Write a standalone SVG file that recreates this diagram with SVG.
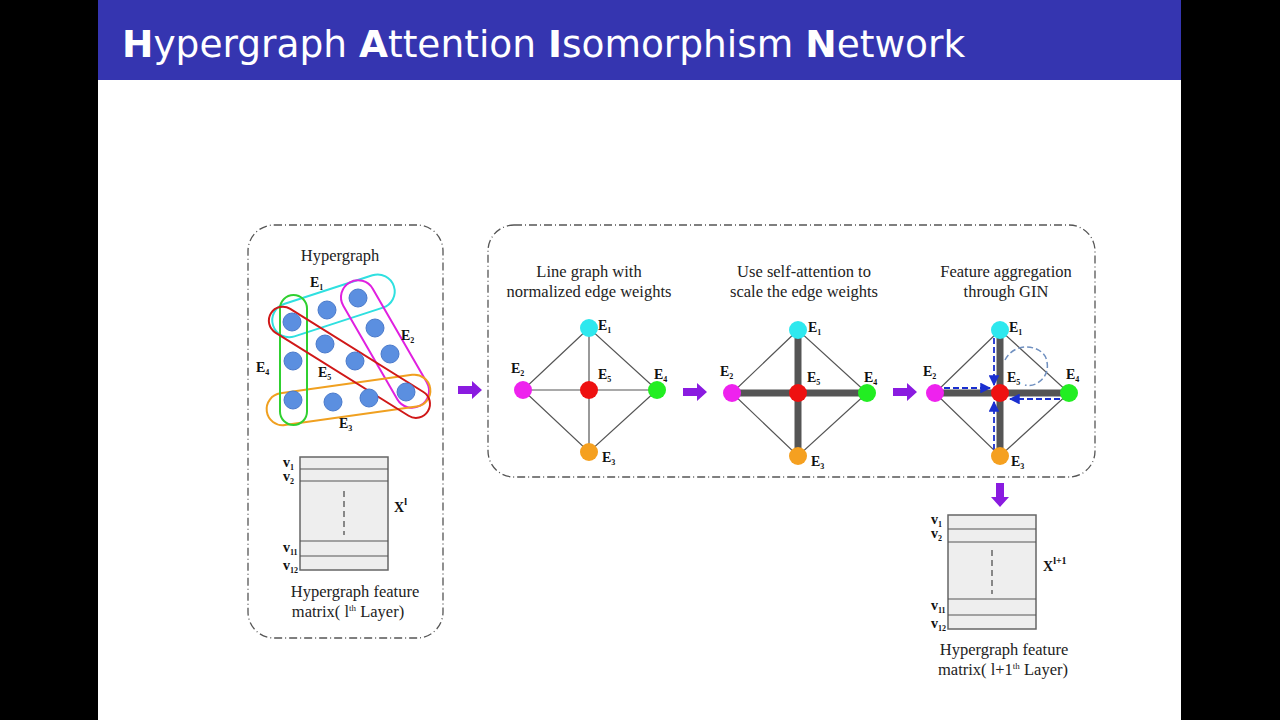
<svg xmlns="http://www.w3.org/2000/svg" width="1280" height="720" viewBox="0 0 1280 720">
<defs>
<style>
.t{font-family:"Liberation Serif",serif;font-size:16.5px;fill:#222;text-anchor:middle}
.l{font-family:"Liberation Serif",serif;font-size:14px;font-weight:bold;fill:#111}
.s{font-size:8px}
.box{fill:none;stroke:#555;stroke-width:1.3;stroke-dasharray:8 3 1 3}
.e{stroke:#555;stroke-width:1.2}
.th{stroke:#555;stroke-width:7}
.hn{fill:#5b8fe0;stroke:#4a7acb;stroke-width:1}
.m{fill:#eee;stroke:#666;stroke-width:1.5}
.pa{fill:#8a1be0}
.bd{stroke:#1a2fd0;stroke-width:1.8;stroke-dasharray:6 3;fill:none}
</style>
<marker id="ba" viewBox="0 0 10 10" refX="9" refY="5" markerWidth="6" markerHeight="6" orient="auto"><path d="M0,0L10,5L0,10z" fill="#1a2fd0"/></marker>
</defs>
<rect width="1280" height="720" fill="#000"/>
<rect x="98" y="0" width="1083" height="720" fill="#fff"/>
<rect x="98" y="0" width="1083" height="80" fill="#3535b0"/>
<text x="122" y="57" font-family="DejaVu Sans,sans-serif" font-size="37.5" fill="#fff"><tspan font-weight="bold">H</tspan>ypergraph <tspan font-weight="bold">A</tspan>ttention <tspan font-weight="bold">I</tspan>somorphism <tspan font-weight="bold">N</tspan>etwork</text>

<g id="boxes">
<rect class="box" x="248" y="225" width="195" height="413" rx="26"/>
<rect class="box" x="488" y="225" width="607" height="252" rx="26"/>
</g>

<g id="hypergraph">
<text class="t" x="340" y="261">Hypergraph</text>
<g fill="none" stroke-width="2">
<rect x="270" y="289" width="127" height="34" rx="17" transform="rotate(-18 333 306)" stroke="#2fe0e0"/>
<rect x="314" y="327" width="142" height="34" rx="17" transform="rotate(60 385 344)" stroke="#e020e0"/>
<rect x="266" y="384" width="165" height="32" rx="16" transform="rotate(-8 348 400)" stroke="#f0a020"/>
<rect x="280" y="295" width="27" height="130" rx="13.5" stroke="#30d030"/>
<rect x="257" y="348" width="185" height="28" rx="14" transform="rotate(32 349 362)" stroke="#d01818"/>
</g>
<g class="hn">
<circle cx="292" cy="322" r="9"/><circle cx="327" cy="310" r="9"/><circle cx="358" cy="298" r="9"/>
<circle cx="375" cy="328" r="9"/><circle cx="390" cy="354" r="9"/><circle cx="406" cy="392" r="9"/>
<circle cx="293" cy="361" r="9"/><circle cx="325" cy="344" r="9"/><circle cx="355" cy="361" r="9"/>
<circle cx="293" cy="400" r="9"/><circle cx="333" cy="402" r="9"/><circle cx="369" cy="398" r="9"/>
</g>
<text class="l" x="310" y="287">E<tspan class="s" dy="3">1</tspan></text>
<text class="l" x="401" y="340">E<tspan class="s" dy="3">2</tspan></text>
<text class="l" x="339" y="428">E<tspan class="s" dy="3">3</tspan></text>
<text class="l" x="256" y="372">E<tspan class="s" dy="3">4</tspan></text>
<text class="l" x="318" y="377">E<tspan class="s" dy="3">5</tspan></text>
</g>

<g id="matrix1">
<rect class="m" x="300" y="457" width="88" height="113"/>
<line class="e" x1="300" y1="469" x2="388" y2="469"/><line class="e" x1="300" y1="481" x2="388" y2="481"/>
<line class="e" x1="300" y1="541" x2="388" y2="541"/><line class="e" x1="300" y1="556" x2="388" y2="556"/>
<line x1="344" y1="491" x2="344" y2="535" stroke="#666" stroke-width="1.5" stroke-dasharray="6 4"/>
<text class="l" x="283" y="467" font-size="11">v<tspan class="s" dy="3">1</tspan></text>
<text class="l" x="283" y="481" font-size="11">v<tspan class="s" dy="3">2</tspan></text>
<text class="l" x="283" y="552" font-size="11">v<tspan class="s" dy="3">11</tspan></text>
<text class="l" x="283" y="570" font-size="11">v<tspan class="s" dy="3">12</tspan></text>
<text class="l" x="394" y="512" font-size="18">X<tspan font-size="10" dy="-7">l</tspan></text>
<text class="t" x="355" y="597">Hypergraph feature</text>
<text class="t" x="348" y="617">matrix( l<tspan font-size="9" dy="-6">th</tspan><tspan dy="6"> Layer)</tspan></text>
</g>

<g id="graph1">
<text class="t" x="589" y="277">Line graph with</text>
<text class="t" x="589" y="297">normalized edge weights</text>
<g class="e"><path d="M589,328L523,390L589,452L657,390Z" fill="none"/><line x1="589" y1="328" x2="589" y2="452"/><line x1="523" y1="390" x2="657" y2="390"/></g>
<circle cx="589" cy="328" r="9" fill="#2ee8ee"/><circle cx="523" cy="390" r="9" fill="#ee22ee"/><circle cx="589" cy="390" r="9" fill="#ee1111"/><circle cx="657" cy="390" r="9" fill="#22ee22"/><circle cx="589" cy="452" r="9" fill="#f5a020"/>
<text class="l" x="598" y="330">E<tspan class="s" dy="3">1</tspan></text>
<text class="l" x="511" y="373">E<tspan class="s" dy="3">2</tspan></text>
<text class="l" x="598" y="379">E<tspan class="s" dy="3">5</tspan></text>
<text class="l" x="654" y="379">E<tspan class="s" dy="3">4</tspan></text>
<text class="l" x="602" y="462">E<tspan class="s" dy="3">3</tspan></text>
</g>

<g id="graph2">
<text class="t" x="804" y="277">Use self-attention to</text>
<text class="t" x="804" y="297">scale the edge weights</text>
<g class="e"><path d="M798,330L732,393L798,456L867,393Z" fill="none"/></g>
<g class="th"><line x1="798" y1="330" x2="798" y2="456"/><line x1="732" y1="393" x2="867" y2="393"/></g>
<circle cx="798" cy="330" r="9" fill="#2ee8ee"/><circle cx="732" cy="393" r="9" fill="#ee22ee"/><circle cx="798" cy="393" r="9" fill="#ee1111"/><circle cx="867" cy="393" r="9" fill="#22ee22"/><circle cx="798" cy="456" r="9" fill="#f5a020"/>
<text class="l" x="808" y="332">E<tspan class="s" dy="3">1</tspan></text>
<text class="l" x="720" y="376">E<tspan class="s" dy="3">2</tspan></text>
<text class="l" x="807" y="382">E<tspan class="s" dy="3">5</tspan></text>
<text class="l" x="864" y="382">E<tspan class="s" dy="3">4</tspan></text>
<text class="l" x="811" y="466">E<tspan class="s" dy="3">3</tspan></text>
</g>

<g id="graph3">
<text class="t" x="1006" y="277">Feature aggregation</text>
<text class="t" x="1006" y="297">through GIN</text>
<g class="e"><path d="M1000,330L935,393L1000,456L1069,393Z" fill="none"/></g>
<g class="th"><line x1="1000" y1="330" x2="1000" y2="456"/><line x1="935" y1="393" x2="1069" y2="393"/></g>
<path d="M1005,360 C1015,340 1045,345 1047,362 C1050,378 1035,388 1025,385" fill="none" stroke="#7090c0" stroke-width="1.5" stroke-dasharray="6 3"/>
<line class="bd" x1="994" y1="338" x2="994" y2="385" marker-end="url(#ba)"/>
<line class="bd" x1="944" y1="388" x2="990" y2="388" marker-end="url(#ba)"/>
<line class="bd" x1="994" y1="450" x2="994" y2="402" marker-end="url(#ba)"/>
<line class="bd" x1="1060" y1="399" x2="1010" y2="399" marker-end="url(#ba)"/>
<circle cx="1000" cy="330" r="9" fill="#2ee8ee"/><circle cx="935" cy="393" r="9" fill="#ee22ee"/><circle cx="1000" cy="393" r="9" fill="#ee1111"/><circle cx="1069" cy="393" r="9" fill="#22ee22"/><circle cx="1000" cy="456" r="9" fill="#f5a020"/>
<text class="l" x="1009" y="332">E<tspan class="s" dy="3">1</tspan></text>
<text class="l" x="923" y="376">E<tspan class="s" dy="3">2</tspan></text>
<text class="l" x="1007" y="382">E<tspan class="s" dy="3">5</tspan></text>
<text class="l" x="1066" y="379">E<tspan class="s" dy="3">4</tspan></text>
<text class="l" x="1011" y="466">E<tspan class="s" dy="3">3</tspan></text>
</g>

<g id="matrix2">
<rect class="m" x="948" y="515" width="88" height="114"/>
<line class="e" x1="948" y1="529" x2="1036" y2="529"/><line class="e" x1="948" y1="542" x2="1036" y2="542"/>
<line class="e" x1="948" y1="599" x2="1036" y2="599"/><line class="e" x1="948" y1="615" x2="1036" y2="615"/>
<line x1="992" y1="550" x2="992" y2="594" stroke="#666" stroke-width="1.5" stroke-dasharray="6 4"/>
<text class="l" x="931" y="524" font-size="11">v<tspan class="s" dy="3">1</tspan></text>
<text class="l" x="931" y="538" font-size="11">v<tspan class="s" dy="3">2</tspan></text>
<text class="l" x="931" y="610" font-size="11">v<tspan class="s" dy="3">11</tspan></text>
<text class="l" x="931" y="628" font-size="11">v<tspan class="s" dy="3">12</tspan></text>
<text class="l" x="1043" y="571" font-size="18">X<tspan font-size="10" dy="-7">l+1</tspan></text>
<text class="t" x="1004" y="655">Hypergraph feature</text>
<text class="t" x="1003" y="675">matrix( l+1<tspan font-size="9" dy="-6">th</tspan><tspan dy="6"> Layer)</tspan></text>
</g>

<g id="connectors">
<path class="pa" d="M458,386h14v-5l10,9l-10,9v-5h-14z"/>
<path class="pa" d="M683,388h14v-5l10,9l-10,9v-5h-14z"/>
<path class="pa" d="M893,388h14v-5l10,9l-10,9v-5h-14z"/>
<path class="pa" d="M996,483v14h-5l9,10l9,-10h-5v-14z"/>
</g>
</svg>
